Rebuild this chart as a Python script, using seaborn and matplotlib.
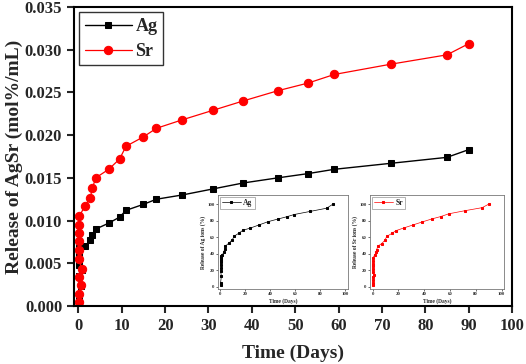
import matplotlib
matplotlib.use("Agg")
import matplotlib.pyplot as plt
import seaborn as sns
import numpy as np
import pandas as pd

# ---- data ----
days = [0.05, 0.08, 0.7, 0.1, 0.8, 0.12, 0.14, 0.16, 0.18, 0.2, 0.22,
        1.5, 2.75, 3.25, 4, 7, 9.5, 11, 15, 18, 24, 31, 38, 46, 53, 59, 72, 85, 90]
ag = [0.0003, 0.0008, 0.0023, 0.0035, 0.0042, 0.0048, 0.0054, 0.0059, 0.0063, 0.0066, 0.0068,
      0.0070, 0.0077, 0.0083, 0.0090, 0.0097, 0.0104, 0.0112, 0.0119, 0.0125, 0.0130,
      0.0137, 0.0144, 0.0150, 0.0155, 0.0160, 0.0167, 0.0174, 0.0183]
sr = [0.0005, 0.0014, 0.0025, 0.0034, 0.0043, 0.0055, 0.0066, 0.0076, 0.0085, 0.0095, 0.0105,
      0.0117, 0.0127, 0.0138, 0.0150, 0.0160, 0.0172, 0.0187, 0.0198, 0.0208, 0.0218,
      0.0229, 0.0240, 0.0252, 0.0261, 0.0271, 0.0283, 0.0294, 0.0307]
x_ticks = [0, 10, 20, 30, 40, 50, 60, 70, 80, 90, 100]
y_ticks = [0.000, 0.005, 0.010, 0.015, 0.020, 0.025, 0.030, 0.035]
inset_x_ticks = [0, 20, 40, 60, 80, 100]
inset_y_ticks = [0, 20, 40, 60, 80, 100]

df = pd.DataFrame({"days": days, "Ag": ag, "Sr": sr})
df["Ag_pct"] = df["Ag"] / df["Ag"].iloc[-1] * 100
df["Sr_pct"] = df["Sr"] / df["Sr"].iloc[-1] * 100

sns.set_style("ticks")
plt.rcParams["font.family"] = ["Liberation Serif", "DejaVu Serif"]
plt.rcParams["font.weight"] = "bold"

fig = plt.figure(figsize=(5.26, 3.64), dpi=100)
ax = fig.add_axes([0.1407, 0.1593, 0.8327, 0.8215])

sns.lineplot(data=df, x="days", y="Ag", ax=ax, sort=False, estimator=None, color="black",
             marker="s", markersize=5.0, markeredgecolor="black", linewidth=1.0, label="Ag")
sns.lineplot(data=df, x="days", y="Sr", ax=ax, sort=False, estimator=None, color="red",
             marker="o", markersize=6.0, markeredgecolor="red", linewidth=0.9, label="Sr")

ax.set_xlim(-1, 100)
ax.set_ylim(0, 0.035)
ax.set_xticks(x_ticks)
ax.set_yticks(y_ticks)
ax.set_yticklabels([f"{v:.3f}" for v in y_ticks])
ax.tick_params(axis="both", labelsize=12, width=1.5, length=5, direction="out")
for lab in ax.get_xticklabels() + ax.get_yticklabels():
    lab.set_fontweight("bold")
for s in ax.spines.values():
    s.set_linewidth(1.5)
    s.set_color("black")
    s.set_visible(True)
ax.set_xlabel("Time (Days)", fontsize=14, fontweight="bold", labelpad=8)
ax.set_ylabel("Release of AgSr (mol%/mL)", fontsize=14, fontweight="bold")
ax.yaxis.set_label_coords(-0.116, 0.5)

leg = ax.legend(loc="upper left", fontsize=13, frameon=True, fancybox=False,
                edgecolor="black", handlelength=2.6, borderaxespad=0.3,
                labelspacing=0.45, borderpad=0.3, handletextpad=0.2)
leg.get_frame().set_linewidth(1.0)
for t in leg.get_texts():
    t.set_fontweight("bold")

def make_inset(rect, col, color, label, ylabel):
    ia = fig.add_axes(rect)
    sns.lineplot(data=df, x="days", y=col, ax=ia, sort=False, estimator=None, color=color,
                 marker="s", markersize=2.0, markeredgecolor=color, linewidth=0.5, label=label)
    ia.set_xlim(-2, 102)
    ia.set_ylim(-3, 111)
    ia.set_xticks(inset_x_ticks)
    ia.set_yticks(inset_y_ticks)
    ia.tick_params(axis="both", labelsize=3.5, width=0.5, length=1.5, pad=1, colors="#333333")
    for s in ia.spines.values():
        s.set_linewidth(0.6)
        s.set_color("#777777")
        s.set_visible(True)
    ia.set_xlabel("Time (Days)", fontsize=4, fontweight="bold", labelpad=1)
    ia.set_ylabel(ylabel, fontsize=4, fontweight="bold", labelpad=1)
    lg = ia.legend(loc="upper left", fontsize=5.5, frameon=True, fancybox=False,
                   edgecolor="#777777", handlelength=2.5, borderaxespad=0.2, borderpad=0.3,
                   handletextpad=0.3)
    lg.get_frame().set_linewidth(0.5)
    return ia

make_inset([0.4144, 0.206, 0.247, 0.258], "Ag_pct", "black", "Ag", "Release of Ag ions (%)")
make_inset([0.7034, 0.206, 0.255, 0.258], "Sr_pct", "red", "Sr", "Release of Sr ions (%)")

fig.savefig("out.png", dpi=100)
